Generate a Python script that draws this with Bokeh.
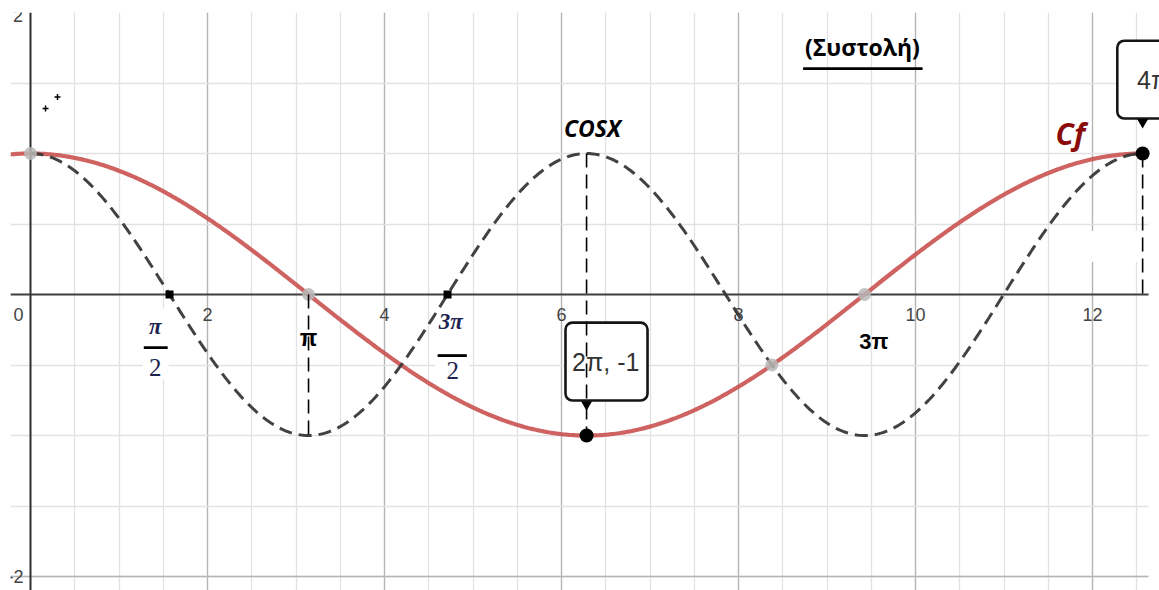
import numpy as np
from bokeh.plotting import figure
from bokeh.models import FixedTicker, BoxAnnotation, Label
from bokeh.core.properties import value
from bokeh.embed import file_html
from bokeh.resources import INLINE

PI = np.pi

# axis number labels
x_tick_vals = [0, 2, 4, 6, 8, 10, 12]
x_tick_text = ["0", "2", "4", "6", "8", "10", "12"]
y_tick_vals = [2, -2]
y_tick_text = ["2", "-2"]

# visible graph area (the frame runs slightly further right for the callout)
x_start, x_end = -0.226, 12.633
x_view_end = 12.757
y_start, y_end = -2.099, 2.0

# special points
gray_x = [0, PI, 3 * PI, 8 * PI / 3]
gray_y = [1, 0, 0, -0.5]
black_x = [2 * PI, 4 * PI]
black_y = [-1, 1]
square_x = [PI / 2, 3 * PI / 2]
square_y = [0, 0]
dot_x = [0.17, 0.305]
dot_y = [1.32, 1.40]

# dashed reference drops
drop_x = [PI, 2 * PI, 4 * PI]
drop_top = [0, 1, 1]
drop_bottom = [-1, -1, 0]

p = figure(width=1159, height=590, x_range=(x_start, x_view_end), y_range=(y_start, y_end),
           output_backend="svg", toolbar_location=None,
           min_border_left=10, min_border_right=0, min_border_top=12, min_border_bottom=0)
p.xaxis.visible = False
p.yaxis.visible = False
p.outline_line_color = None
p.background_fill_color = "white"

minor = list(np.arange(-0.5, 12.51, 0.5))
p.xgrid.ticker = FixedTicker(ticks=[2, 4, 6, 8, 10, 12], minor_ticks=minor)
p.ygrid.ticker = FixedTicker(ticks=[-2, 2], minor_ticks=list(np.arange(-2.5, 2.51, 0.5)))
for g in (p.xgrid, p.ygrid):
    g.grid_line_color = "#b4b4b4"
    g.grid_line_width = 1.3
    g.minor_grid_line_color = "#e2e2e2"
    g.minor_grid_line_width = 1.3

# blank strip to the right of the graph area
p.quad(left=[x_end], right=[x_view_end + 0.1], top=[y_end + 0.1], bottom=[y_start - 0.1],
       fill_color="white", line_color=None)

# white patches behind the fraction labels and near the right edge
p.quad(left=[1.27, 4.57, 11.64], right=[1.56, 4.96, 12.62], top=[-0.1, -0.07, 0.45],
       bottom=[-0.6, -0.66, 0.23], fill_color="white", line_color=None)

# axes
p.line([x_start, x_end], [0, 0], line_color="#404040", line_width=2)
p.line([0, 0], [y_start, y_end], line_color="#303030", line_width=2)

# tick numbers
tick_font = value("Liberation Sans")
p.text(x=[-0.136] + x_tick_vals[1:], y=[-0.142] * len(x_tick_vals), text=x_tick_text,
       text_font=tick_font, text_font_size="18px", text_color="#444444",
       text_align="center", text_baseline="middle")
p.text(x=[-0.14, -0.17], y=[1.98, -2.0], text=y_tick_text,
       text_font=tick_font, text_font_size="18px", text_color="#444444",
       text_align="center", text_baseline="middle")

# curves
xs = np.linspace(x_start, x_end, 600)
p.line(xs, np.cos(xs / 2), line_color="#c95250", line_width=4.2, line_alpha=0.9)
xc = np.linspace(0, 4 * PI, 600)
p.line(xc, np.cos(xc), line_color="#383838", line_width=3, line_dash="13 7", line_alpha=0.95)

# markers
p.scatter(gray_x, gray_y, size=13, fill_color="#b8b8b8", line_color=None, fill_alpha=0.85)
p.scatter(square_x, square_y, marker="square", size=8, fill_color="black", line_color=None)
p.scatter(dot_x, dot_y, marker="cross", size=6, line_color="black", line_width=1.5)

# labels on the x axis
p.text(x=[PI], y=[-0.305], text=["π"], text_font=tick_font, text_font_style="bold",
       text_font_size="23px", text_color="black", text_align="center", text_baseline="middle",
       background_fill_color="white")
p.text(x=[9.53], y=[-0.33], text=["3π"], text_font=tick_font, text_font_style="bold",
       text_font_size="22px", text_color="black", text_align="center", text_baseline="middle")

serif = value("Liberation Serif")
p.text(x=[1.41, 4.75], y=[-0.23, -0.19], text=["π", "3π"], text_font=serif,
       text_font_style="bold italic", text_font_size="23px", text_color="#1d2450",
       text_align="center", text_baseline="middle")
p.text(x=[1.41, 4.77], y=[-0.52, -0.54], text=["2", "2"], text_font=serif,
       text_font_size="25px", text_color="#1d2450", text_align="center", text_baseline="middle")
p.segment(x0=[1.28, 4.60], y0=[-0.376, -0.433], x1=[1.55, 4.93], y1=[-0.376, -0.433],
          line_color="black", line_width=2.8)

# titles
sans = value("Open Sans")
p.text(x=[6.35], y=[1.18], text=["COSX"], text_font=sans, text_font_style="bold italic",
       text_font_size="23px", text_color="black", text_align="center", text_baseline="middle")
p.text(x=[11.75], y=[1.14], text=["Cf"], text_font=sans, text_font_style="bold italic",
       text_font_size="30px", text_color="#8b0a0a", text_align="center", text_baseline="middle")
p.text(x=[9.40], y=[1.755], text=["(Συστολή)"], text_font=sans, text_font_style="bold",
       text_font_size="23px", text_color="black", text_align="center", text_baseline="middle")
p.segment(x0=[8.73], y0=[1.602], x1=[10.08], y1=[1.602], line_color="black", line_width=2.6)

# callout boxes
p.add_layout(BoxAnnotation(left=6.045, right=6.972, top=-0.199, bottom=-0.752,
                           fill_color="white", fill_alpha=1, line_color="#151515",
                           line_alpha=1, line_width=2.6, border_radius=7))
p.add_layout(BoxAnnotation(left=12.28, right=13.2, top=1.80, bottom=1.248,
                           fill_color="white", fill_alpha=1, line_color="#151515",
                           line_alpha=1, line_width=2.6, border_radius=7))
p.add_layout(Label(x=6.5, y=-0.48, text="2π, -1", text_font="Liberation Sans",
                   text_font_size="25px", text_color="#333333", text_align="center",
                   text_baseline="middle"))
p.add_layout(Label(x=12.68, y=1.52, text="4π", text_font="Liberation Sans",
                   text_font_size="25px", text_color="#333333", text_align="center",
                   text_baseline="middle"))

# dashed drops, pointers and the highlighted points on top
p.segment(x0=drop_x, y0=drop_top, x1=drop_x, y1=drop_bottom, line_color="black",
          line_width=1.6, line_dash="14 7", level="overlay")
p.scatter([2 * PI, 4 * PI], [-0.78, 1.222], marker="inverted_triangle", size=11,
          fill_color="black", line_color=None, level="overlay")
p.scatter(black_x, black_y, size=14, fill_color="black", line_color=None, level="overlay")

open("out.html", "w").write(file_html(p, INLINE))
